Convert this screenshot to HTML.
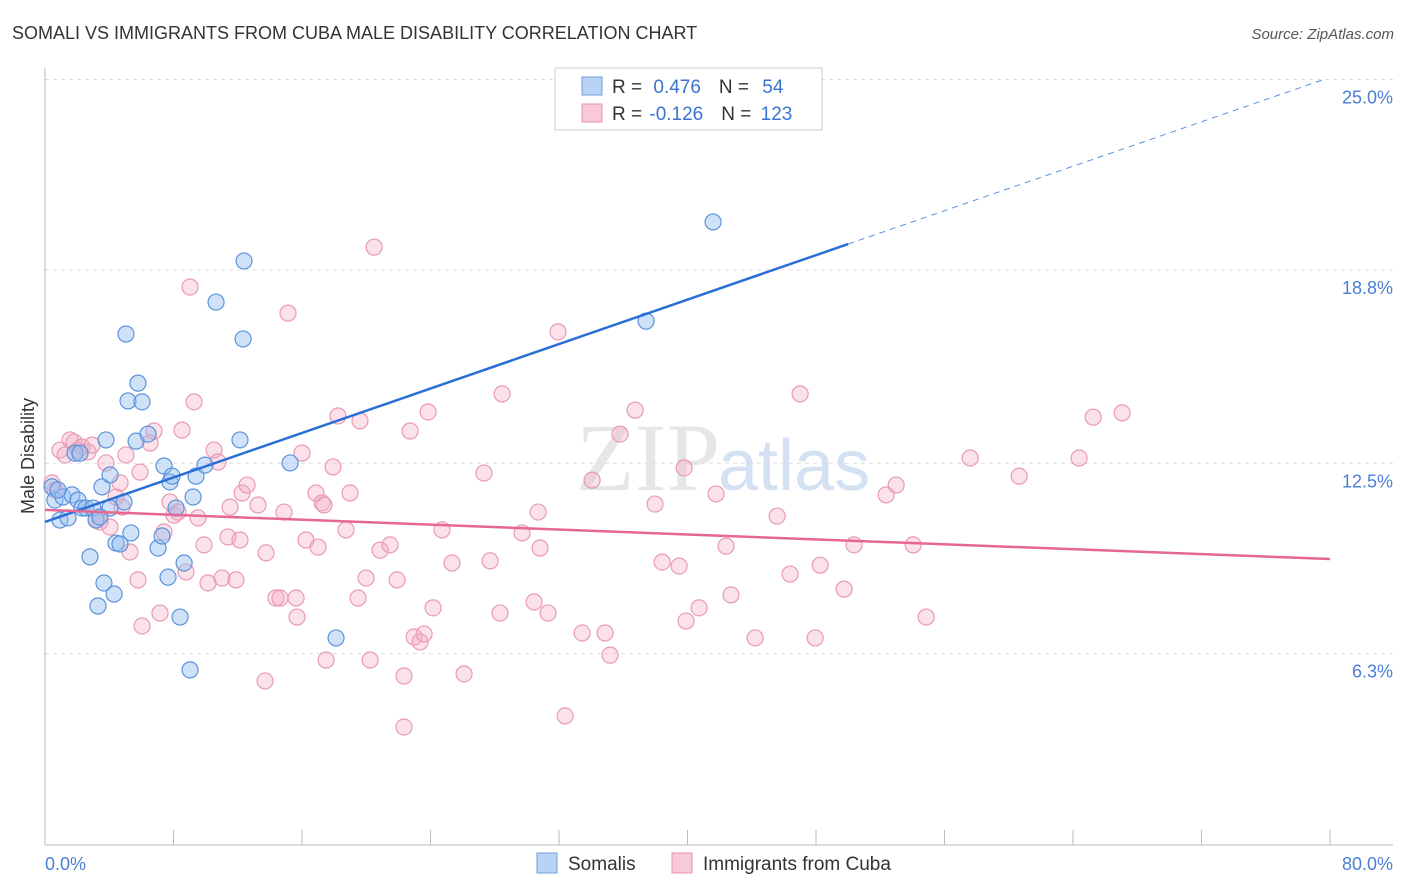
<!DOCTYPE html>
<html><head><meta charset="utf-8"><style>
body{margin:0;background:#fff;font-family:"Liberation Sans",sans-serif;}
svg{display:block}
</style></head><body>
<svg id="chart" width="1406" height="892">
<text x="12" y="39" font-size="18" fill="#333">SOMALI VS IMMIGRANTS FROM CUBA MALE DISABILITY CORRELATION CHART</text>
<text x="1394" y="39" font-size="15" fill="#555" font-style="italic" text-anchor="end">Source: ZipAtlas.com</text>
<text x="720" y="490" font-size="96" fill="#e6e6e6" font-family="Liberation Serif,serif" text-anchor="end">ZIP</text>
<text x="718" y="490" font-size="72" fill="#d3e1f2">atlas</text>
<g id="grid"></g><g id="axes"></g><g id="pts"></g><g id="lines"></g>
<text transform="translate(34,456) rotate(-90)" font-size="18" fill="#333" text-anchor="middle">Male Disability</text>
<text x="45" y="870" font-size="18" fill="#4a7fd4">0.0%</text>
<text x="1393" y="870" font-size="18" fill="#4a7fd4" text-anchor="end">80.0%</text>
<g>
<rect x="555" y="68" width="267" height="62" fill="#fff" stroke="#ccc"/>
<rect x="582" y="77" width="20" height="18" fill="#b9d3f5" stroke="#6d9ee0"/>
<rect x="582" y="104" width="20" height="18" fill="#f8c9d7" stroke="#e892ad"/>
<text x="612" y="93" font-size="19" fill="#333">R = <tspan fill="#3a74d0" dx="6">0.476</tspan><tspan dx="18">N = </tspan><tspan fill="#3a74d0" dx="8">54</tspan></text>
<text x="612" y="120" font-size="19" fill="#333">R = <tspan fill="#3a74d0" dx="2">-0.126</tspan><tspan dx="18">N = </tspan><tspan fill="#3a74d0" dx="4">123</tspan></text>
</g>
<g>
<rect x="537" y="853" width="20" height="20" fill="#b9d3f5" stroke="#6d9ee0"/>
<text x="568" y="870" font-size="19" fill="#333">Somalis</text>
<rect x="672" y="853" width="20" height="20" fill="#f8c9d7" stroke="#e892ad"/>
<text x="703" y="870" font-size="19" fill="#333">Immigrants from Cuba</text>
</g>
</svg>
<script>
const yTicks=[6.3,12.5,18.8,25.0];
const blueX=[0.44,0.62,0.93,1.12,1.43,1.68,2.05,2.3,2.55,2.8,2.99,3.18,3.3,3.55,3.67,3.8,4.05,4.3,4.42,4.67,4.92,5.04,5.17,5.35,5.67,5.79,6.04,6.41,7.04,7.29,7.41,7.66,7.78,7.91,8.16,8.41,8.66,9.03,9.22,9.4,9.96,10.65,12.14,12.33,12.39,15.26,18.12,37.42,41.59,1.87,2.18,0.81,4.05,3.42];
const blueY=[11.73,11.3,10.65,11.4,10.72,11.47,11.3,11.04,11.04,9.45,11.04,10.65,7.85,11.73,8.6,13.26,11.04,8.24,9.9,9.87,11.24,16.71,14.53,10.23,13.22,15.11,14.5,13.45,9.74,10.13,12.41,8.79,11.89,12.08,11.04,7.49,9.25,5.77,11.4,12.08,12.44,17.75,13.26,16.55,19.09,12.51,6.81,17.13,20.36,12.83,12.83,11.63,12.12,10.75];
const pinkX=[0.44,0.62,0.93,1.25,1.56,1.81,2.05,2.3,2.68,2.93,3.18,3.42,3.8,4.05,4.42,4.79,5.04,5.29,5.79,6.04,6.54,6.79,7.16,7.41,7.78,8.03,8.28,8.53,8.78,9.03,9.28,9.53,9.9,10.15,10.52,10.77,11.02,11.39,11.89,12.14,12.27,12.58,13.26,13.7,13.76,14.38,14.63,15.13,14.88,15.63,15.69,16.0,16.25,16.87,17.0,17.25,17.5,17.93,18.24,18.74,18.99,19.49,19.61,19.99,20.24,20.49,20.86,21.48,21.92,22.35,22.73,22.98,23.35,23.6,23.85,24.16,24.72,25.34,26.09,27.33,27.71,28.33,28.46,29.7,30.45,30.7,30.82,31.32,31.94,32.38,33.44,34.06,34.87,35.18,35.8,36.74,37.98,38.42,39.48,39.79,39.91,40.72,41.78,42.4,42.71,44.21,45.58,46.39,47.01,47.95,48.26,49.75,50.37,52.37,52.99,54.05,54.86,57.6,60.65,64.38,65.26,67.06,22.35,17.37,11.52,4.67,5.92];
const pinkY=[11.86,11.63,12.93,12.77,13.26,13.19,12.93,13.03,12.87,13.09,10.65,10.59,12.51,10.42,11.4,11.07,12.77,9.61,8.7,7.2,13.16,13.55,7.62,10.26,11.24,10.81,10.91,13.58,8.96,18.24,14.5,10.72,9.84,8.6,12.93,12.54,8.76,10.1,8.7,10.0,11.53,11.79,11.14,5.41,9.58,8.11,8.11,17.39,10.91,8.11,7.49,12.83,10.0,11.53,9.77,11.21,6.09,12.38,14.04,10.33,11.53,8.11,13.88,8.76,6.09,19.54,9.67,9.84,8.7,5.57,13.55,6.84,6.68,6.94,14.17,7.79,10.33,9.25,5.64,12.18,9.32,7.62,14.76,10.23,7.98,10.91,9.74,7.62,16.78,4.27,6.97,11.95,6.97,6.25,13.45,14.23,11.17,9.28,9.15,12.35,7.36,7.79,11.5,9.8,8.21,6.81,10.78,8.89,14.76,6.81,9.18,8.4,9.84,11.47,11.79,9.84,7.49,12.67,12.08,12.67,14.0,14.14,3.91,11.14,11.07,11.86,12.21];
const blueTrend=[10.59,0.181], pinkTrend=[10.98,-0.02];
const X0=45,X1=1330,Y0=847;
const xs=v=>X0+v/80*(X1-X0);
const ys=v=>Y0-v*30.7;
const NS='http://www.w3.org/2000/svg';
function mk(parent,tag,attrs){const e=document.createElementNS(NS,tag);for(const k in attrs)e.setAttribute(k,attrs[k]);document.getElementById(parent).appendChild(e);return e;}
yTicks.forEach(t=>{
 const g=mk('grid','line',{x1:45,x2:1393,y1:ys(t),y2:ys(t),stroke:'#ddd','stroke-dasharray':'4,4'});
 
 
 const l=mk('grid','text',{x:1393,y:ys(t)+24,'font-size':18,fill:'#4a7fd4','text-anchor':'end'});
 l.textContent=t.toFixed(1)+'%';
 
 
});
const ax=mk('axes','line',{x1:45,x2:45,y1:68,y2:845,stroke:'#bbb'});


const bx=mk('axes','line',{x1:45,x2:1393,y1:845,y2:845,stroke:'#bbb'});


for(let k=0;k<=10;k++){const t=mk('axes','line',{x1:xs(k*8),x2:xs(k*8),y1:830,y2:845,stroke:'#bbb'});
 
 }
pinkX.forEach((v,i)=>{const c=mk('pts','circle',{cx:xs(v),cy:ys(pinkY[i]),r:8,fill:'rgba(244,170,195,0.35)',stroke:'#e99ab3','stroke-width':1.2});
 
 });
blueX.forEach((v,i)=>{const c=mk('pts','circle',{cx:xs(v),cy:ys(blueY[i]),r:8,fill:'rgba(150,190,240,0.45)',stroke:'#5a93dc','stroke-width':1.2});
 
 });
const bl=mk('lines','line',{x1:xs(0),y1:ys(blueTrend[0]),x2:xs(50),y2:ys(blueTrend[0]+blueTrend[1]*50),stroke:'#2a6fd6','stroke-width':2.5});


const bd=mk('lines','line',{x1:xs(50),y1:ys(blueTrend[0]+blueTrend[1]*50),x2:xs(79.7),y2:ys(blueTrend[0]+blueTrend[1]*79.7),stroke:'#5a8fdc','stroke-width':1,'stroke-dasharray':'6,5'});


const pl=mk('lines','line',{x1:xs(0),y1:ys(pinkTrend[0]),x2:xs(80),y2:ys(pinkTrend[0]+pinkTrend[1]*80),stroke:'#e66892','stroke-width':2.5});


</script>
</body></html>
